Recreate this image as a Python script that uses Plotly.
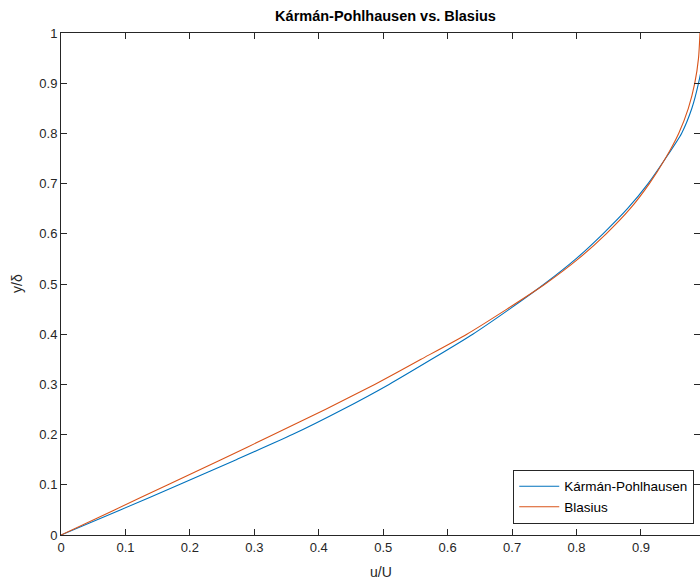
import plotly.graph_objects as go

# y/delta grid
y_over_delta = [0.0, 0.05, 0.1, 0.15, 0.2, 0.25, 0.3, 0.35, 0.4, 0.45, 0.5,
                0.55, 0.6, 0.65, 0.7, 0.75, 0.8, 0.85, 0.9, 0.95, 1.0]

# u/U
u_karman = [0.0, 0.092, 0.183, 0.272, 0.359, 0.437, 0.509, 0.575, 0.639, 0.696, 0.750,
            0.799, 0.841, 0.879, 0.911, 0.938, 0.963, 0.979, 0.9893, 0.9965, 1.0]
u_blasius = [0.0, 0.083, 0.1659, 0.2483, 0.3298, 0.4101, 0.4868, 0.5587, 0.6298, 0.6920, 0.7513,
             0.8027, 0.8460, 0.8832, 0.9130, 0.9378, 0.9585, 0.9735, 0.9835, 0.9893, 0.9916]

series_names = ["Kármán-Pohlhausen", "Blasius"]
x_ticks = [0, 0.1, 0.2, 0.3, 0.4, 0.5, 0.6, 0.7, 0.8, 0.9]
y_ticks = [0, 0.1, 0.2, 0.3, 0.4, 0.5, 0.6, 0.7, 0.8, 0.9, 1]

AX = "#262626"
FONT = "Liberation Sans, Arial, Helvetica, sans-serif"

fig = go.Figure()
fig.add_trace(go.Scatter(x=u_karman, y=y_over_delta, mode="lines", name=series_names[0],
                         line=dict(color="#0072BD", width=1.1, shape="spline", smoothing=0.6)))
fig.add_trace(go.Scatter(x=u_blasius, y=y_over_delta, mode="lines", name=series_names[1],
                         line=dict(color="#D95319", width=1.1, shape="spline", smoothing=0.6)))

axis_common = dict(showline=True, linecolor=AX, linewidth=1, mirror="ticks",
                   ticks="inside", ticklen=6, tickcolor=AX, tickwidth=1,
                   showgrid=False, zeroline=False, automargin=False,
                   tickfont=dict(family=FONT, size=13, color=AX))

fig.update_layout(
    width=700, height=580,
    margin=dict(l=61, r=0, t=33, b=45, autoexpand=False),
    paper_bgcolor="white", plot_bgcolor="white",
    title=dict(text="<b>Kármán-Pohlhausen vs. Blasius</b>", x=385.5 / 700,
               xanchor="center", y=1 - 15.5 / 580, yanchor="middle", automargin=False,
               font=dict(family=FONT, size=14.5, color="black")),
    xaxis=dict(range=[0, 0.9916], tickvals=x_ticks, **axis_common),
    yaxis=dict(range=[0, 1], tickvals=y_ticks, **axis_common),
    legend=dict(x=0.991, y=0.022, xanchor="right", yanchor="bottom",
                bgcolor="white", bordercolor=AX, borderwidth=1,
                font=dict(family=FONT, size=13.5, color="black"),
                tracegroupgap=0, itemwidth=40),
    showlegend=True,
    annotations=[
        dict(text="y/δ", xref="paper", yref="paper", x=-44 / 639, y=0.5,
             xanchor="center", yanchor="middle", showarrow=False, textangle=-90,
             font=dict(family=FONT, size=14, color=AX)),
        dict(text="u/U", xref="paper", yref="paper", x=0.5, y=-37 / 501.5,
             xanchor="center", yanchor="middle", showarrow=False,
             font=dict(family=FONT, size=14, color=AX)),
    ],
)

fig.write_html(
    "out.html",
    config={"displayModeBar": False},
    post_script="document.body.style.margin='0';document.documentElement.style.overflow='hidden';",
)
